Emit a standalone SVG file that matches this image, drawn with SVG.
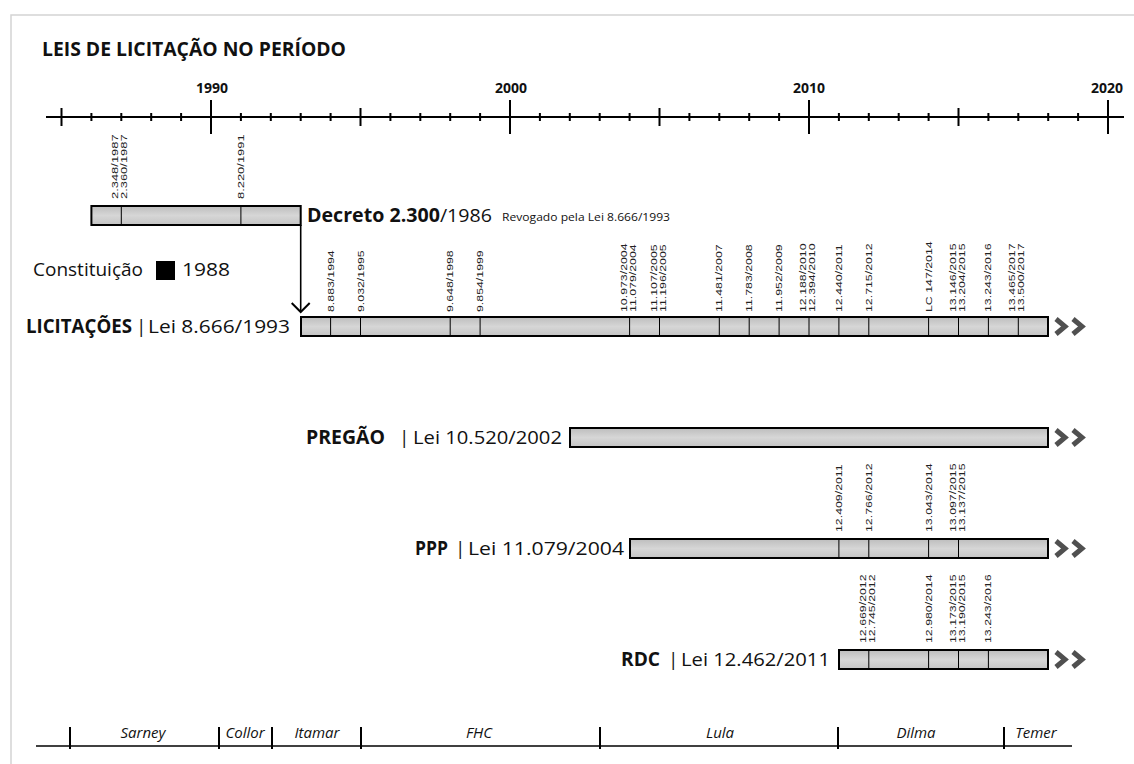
<svg xmlns="http://www.w3.org/2000/svg" width="1134" height="764" viewBox="0 0 1134 764">
<defs>
<linearGradient id="bg" x1="0" y1="0" x2="0" y2="1">
<stop offset="0" stop-color="#bdbdbd"/><stop offset="0.5" stop-color="#d6d6d6"/><stop offset="1" stop-color="#c4c4c4"/>
</linearGradient>
<marker id="ah" viewBox="0 0 20 20" refX="18" refY="10" markerWidth="20" markerHeight="20" markerUnits="userSpaceOnUse" orient="auto">
<polyline points="9,1 18,10 9,19" fill="none" stroke="#000" stroke-width="2"/>
</marker>
</defs>
<style>
.t{font-family:"Open Sans","Liberation Sans",sans-serif;fill:#111}
.b{font-weight:bold}
.v{font-family:"Liberation Sans",Arial,sans-serif;font-size:9.5px;fill:#222}
.bar{fill:url(#bg);stroke:#000;stroke-width:2}
.tk{stroke:#000;stroke-width:1}
.ax{stroke:#000;stroke-width:2;fill:none}
.ch{fill:none;stroke:#505050;stroke-width:5;stroke-linejoin:miter}
.p{font-family:"Open Sans","Liberation Sans",sans-serif;font-style:italic;font-size:15px;fill:#111}
</style>
<rect width="1134" height="764" fill="#fff"/>
<path d="M11,764 V15 H1134" fill="none" stroke="#d4d4d4" stroke-width="1.5"/>

<g id="title">
<text class="t b" x="42" y="56" font-size="20" textLength="304" lengthAdjust="spacingAndGlyphs">LEIS DE LICITAÇÃO NO PERÍODO</text>
</g>

<g id="axis">
<line class="ax" x1="46" y1="117" x2="1124" y2="117"/>
<path class="ax" d="M211,100V134M510,100V134M809,100V134M1108,100V134"/>
<path class="ax" d="M61.5,108V126M360.5,108V126M659.5,108V126M958.5,108V126"/>
<path class="ax" d="M91.4,113V121M121.3,113V121M151.2,113V121M181.1,113V121M240.9,113V121M270.8,113V121M300.7,113V121M330.6,113V121M390.4,113V121M420.3,113V121M450.2,113V121M480.1,113V121M539.9,113V121M569.8,113V121M599.7,113V121M629.6,113V121M689.4,113V121M719.3,113V121M749.2,113V121M779.1,113V121M838.9,113V121M868.8,113V121M898.7,113V121M928.6,113V121M988.4,113V121M1018.3,113V121M1048.2,113V121M1078.1,113V121"/>
<text class="t b" x="212" y="93" font-size="14" text-anchor="middle">1990</text>
<text class="t b" x="511" y="93" font-size="14" text-anchor="middle">2000</text>
<text class="t b" x="809" y="93" font-size="14" text-anchor="middle">2010</text>
<text class="t b" x="1107" y="93" font-size="14" text-anchor="middle">2020</text>
</g>

<g id="decreto">
<rect class="bar" x="91.4" y="206" width="209.3" height="19"/>
<path class="tk" d="M121.3,206V225M240.9,206V225"/>
<text class="v" transform="translate(118.3,199) rotate(-90) scale(1.36,1)">2.348/1987</text>
<text class="v" transform="translate(127.3,199) rotate(-90) scale(1.36,1)">2.360/1987</text>
<text class="v" transform="translate(243.9,199) rotate(-90) scale(1.36,1)">8.220/1991</text>
<text class="t" x="307" y="222" font-size="19" textLength="185" lengthAdjust="spacingAndGlyphs"><tspan class="b">Decreto 2.300</tspan>/1986</text>
<text class="t" x="502" y="221" font-size="10" textLength="168" lengthAdjust="spacingAndGlyphs">Revogado pela Lei 8.666/1993</text>
</g>

<g id="constituicao">
<text class="t" x="33" y="276" font-size="19" textLength="110" lengthAdjust="spacingAndGlyphs">Constituição</text>
<rect x="156" y="261" width="19" height="19" fill="#000"/>
<text class="t" x="182" y="276" font-size="19" textLength="48" lengthAdjust="spacingAndGlyphs">1988</text>
</g>

<g id="connectors">
<path d="M300.7,225 V312" fill="none" stroke="#000" stroke-width="1.6" marker-end="url(#ah)"/>
</g>

<g id="licitacoes">
<text class="t b" x="26" y="333" font-size="19" textLength="106" lengthAdjust="spacingAndGlyphs">LICITAÇÕES</text>
<text class="t" x="136" y="333" font-size="19">|</text>
<text class="t" x="148" y="333" font-size="19" textLength="142" lengthAdjust="spacingAndGlyphs">Lei 8.666/1993</text>
<rect class="bar" x="301" y="317" width="747" height="19"/>
<path class="tk" d="M330.6,317V336M360.5,317V336M450.2,317V336M480.1,317V336M629.6,317V336M659.5,317V336M719.3,317V336M749.2,317V336M779.1,317V336M809,317V336M838.9,317V336M868.8,317V336M928.6,317V336M958.5,317V336M988.4,317V336M1018.3,317V336"/>
<text class="v" transform="translate(333.6,312) rotate(-90) scale(1.3,1)">8.883/1994</text>
<text class="v" transform="translate(363.5,312) rotate(-90) scale(1.3,1)">9.032/1995</text>
<text class="v" transform="translate(453.2,312) rotate(-90) scale(1.3,1)">9.648/1998</text>
<text class="v" transform="translate(483.1,312) rotate(-90) scale(1.3,1)">9.854/1999</text>
<text class="v" transform="translate(626.6,312) rotate(-90) scale(1.3,1)">10.973/2004</text>
<text class="v" transform="translate(635.6,312) rotate(-90) scale(1.3,1)">11.079/2004</text>
<text class="v" transform="translate(656.5,312) rotate(-90) scale(1.3,1)">11.107/2005</text>
<text class="v" transform="translate(665.5,312) rotate(-90) scale(1.3,1)">11.196/2005</text>
<text class="v" transform="translate(722.3,312) rotate(-90) scale(1.3,1)">11.481/2007</text>
<text class="v" transform="translate(752.2,312) rotate(-90) scale(1.3,1)">11.783/2008</text>
<text class="v" transform="translate(782.1,312) rotate(-90) scale(1.3,1)">11.952/2009</text>
<text class="v" transform="translate(806,312) rotate(-90) scale(1.3,1)">12.188/2010</text>
<text class="v" transform="translate(815,312) rotate(-90) scale(1.3,1)">12.394/2010</text>
<text class="v" transform="translate(841.9,312) rotate(-90) scale(1.3,1)">12.440/2011</text>
<text class="v" transform="translate(871.8,312) rotate(-90) scale(1.3,1)">12.715/2012</text>
<text class="v" transform="translate(931.6,312) rotate(-90) scale(1.3,1)">LC 147/2014</text>
<text class="v" transform="translate(955.5,312) rotate(-90) scale(1.3,1)">13.146/2015</text>
<text class="v" transform="translate(964.5,312) rotate(-90) scale(1.3,1)">13.204/2015</text>
<text class="v" transform="translate(991.4,312) rotate(-90) scale(1.3,1)">13.243/2016</text>
<text class="v" transform="translate(1015.3,312) rotate(-90) scale(1.3,1)">13.465/2017</text>
<text class="v" transform="translate(1024.3,312) rotate(-90) scale(1.3,1)">13.500/2017</text>
<path class="ch" d="M1056,319 L1065,326.5 L1056,334 M1073,319 L1082,326.5 L1073,334"/>
</g>

<g id="pregao">
<text class="t b" x="306" y="444" font-size="19" textLength="79" lengthAdjust="spacingAndGlyphs">PREGÃO</text>
<text class="t" x="399" y="444" font-size="19">|</text>
<text class="t" x="413" y="444" font-size="19" textLength="149" lengthAdjust="spacingAndGlyphs">Lei 10.520/2002</text>
<rect class="bar" x="570" y="428" width="478" height="19"/>
<path class="ch" d="M1056,430 L1065,437.5 L1056,445 M1073,430 L1082,437.5 L1073,445"/>
</g>

<g id="ppp">
<text class="t b" x="415" y="555" font-size="19" textLength="33" lengthAdjust="spacingAndGlyphs">PPP</text>
<text class="t" x="455" y="555" font-size="19">|</text>
<text class="t" x="468" y="555" font-size="19" textLength="156" lengthAdjust="spacingAndGlyphs">Lei 11.079/2004</text>
<rect class="bar" x="630" y="539" width="418" height="19"/>
<path class="tk" d="M838.9,539V558M868.8,539V558M928.6,539V558M958.5,539V558"/>
<text class="v" transform="translate(841.9,532) rotate(-90) scale(1.3,1)">12.409/2011</text>
<text class="v" transform="translate(871.8,532) rotate(-90) scale(1.3,1)">12.766/2012</text>
<text class="v" transform="translate(931.6,532) rotate(-90) scale(1.3,1)">13.043/2014</text>
<text class="v" transform="translate(955.5,532) rotate(-90) scale(1.3,1)">13.097/2015</text>
<text class="v" transform="translate(964.5,532) rotate(-90) scale(1.3,1)">13.137/2015</text>
<path class="ch" d="M1056,541 L1065,548.5 L1056,556 M1073,541 L1082,548.5 L1073,556"/>
</g>

<g id="rdc">
<text class="t b" x="621" y="666" font-size="19" textLength="39" lengthAdjust="spacingAndGlyphs">RDC</text>
<text class="t" x="668" y="666" font-size="19">|</text>
<text class="t" x="681" y="666" font-size="19" textLength="149" lengthAdjust="spacingAndGlyphs">Lei 12.462/2011</text>
<rect class="bar" x="839" y="650" width="209" height="19"/>
<path class="tk" d="M868.8,650V669M928.6,650V669M958.5,650V669M988.4,650V669"/>
<text class="v" transform="translate(865.8,643) rotate(-90) scale(1.3,1)">12.669/2012</text>
<text class="v" transform="translate(874.8,643) rotate(-90) scale(1.3,1)">12.745/2012</text>
<text class="v" transform="translate(931.6,643) rotate(-90) scale(1.3,1)">12.980/2014</text>
<text class="v" transform="translate(955.5,643) rotate(-90) scale(1.3,1)">13.173/2015</text>
<text class="v" transform="translate(964.5,643) rotate(-90) scale(1.3,1)">13.190/2015</text>
<text class="v" transform="translate(991.4,643) rotate(-90) scale(1.3,1)">13.243/2016</text>
<path class="ch" d="M1056,652 L1065,659.5 L1056,667 M1073,652 L1082,659.5 L1073,667"/>
</g>

<g id="presidentes">
<line x1="36" y1="746" x2="1072" y2="746" stroke="#000" stroke-width="1.5"/>
<path d="M70,727V749M219,727V749M272,727V749M361,727V749M600,727V749M838,727V749M1004,727V749" stroke="#000" stroke-width="2"/>
<text class="p" x="143" y="738" text-anchor="middle">Sarney</text>
<text class="p" x="245" y="738" text-anchor="middle">Collor</text>
<text class="p" x="317" y="738" text-anchor="middle">Itamar</text>
<text class="p" x="479" y="738" text-anchor="middle">FHC</text>
<text class="p" x="720" y="738" text-anchor="middle">Lula</text>
<text class="p" x="916" y="738" text-anchor="middle">Dilma</text>
<text class="p" x="1036" y="738" text-anchor="middle">Temer</text>
</g>
</svg>
